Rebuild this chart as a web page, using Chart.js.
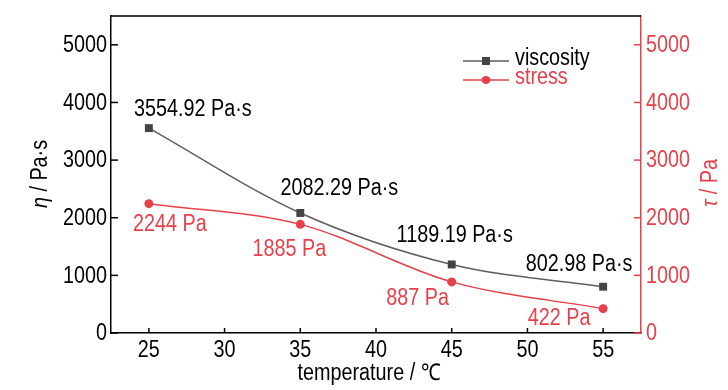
<!DOCTYPE html>
<html><head><meta charset="utf-8">
<script src="https://cdn.jsdelivr.net/npm/chart.js@4.4.0/dist/chart.umd.min.js"></script>
<style>html,body{margin:0;padding:0;background:#fff}#wrap{width:728px;height:390px;position:relative}</style>
</head><body><div id="wrap"><canvas id="c" width="728" height="390"></canvas></div>
<script>
// ---- data ----
const temperatures = [25, 35, 45, 55];
const viscosity = [3554.92, 2082.29, 1189.19, 802.98];
const stress = [2244, 1885, 887, 422];
const viscosityLabels = ['3554.92 Pa·s', '2082.29 Pa·s', '1189.19 Pa·s', '802.98 Pa·s'];
const stressLabels = ['2244 Pa', '1885 Pa', '887 Pa', '422 Pa'];
const xTicks = [25, 30, 35, 40, 45, 50, 55];
const yTicks = [0, 1000, 2000, 3000, 4000, 5000];
const seriesNames = ['viscosity', 'stress'];
const xTitle = 'temperature / ℃';
const yLeftSymbol = 'η', yLeftUnit = ' / Pa·s';
const yRightSymbol = 'τ', yRightUnit = ' / Pa';

// ---- styles / label offsets (pixels) ----
const vOff = [[44, -18], [39, -24], [3, -29], [-24, -22]];
const sOff = [[21, 21], [-11, 25], [-34, 17], [-44, 10]];
const FAM = '"Liberation Sans", Arial, sans-serif';
const RED = '#e8404a';
const GRAY = '#5e5e5e';
const DARK = '#444444';
const FS = 23;
const NARROW = 0.86;

const pts = (xs, ys) => xs.map((x, i) => ({x: x, y: ys[i]}));

// draw condensed text (horizontal squeeze)
function nText(ctx, txt, x, y, align, font, color, rot) {
  ctx.save();
  ctx.translate(x, y);
  if (rot) ctx.rotate(rot);
  ctx.scale(NARROW, 1);
  ctx.font = font; ctx.fillStyle = color; ctx.textAlign = align; ctx.textBaseline = 'middle';
  ctx.fillText(txt, 0, 0);
  ctx.restore();
}

const decor = {
  id: 'decor',
  afterDatasetsDraw(chart) {
    const ctx = chart.ctx, a = chart.chartArea;
    const sx = chart.scales.x, sy = chart.scales.y, sy1 = chart.scales.y1;
    const F = FS + 'px ' + FAM;
    ctx.save();
    // top frame line
    ctx.strokeStyle = '#000'; ctx.lineWidth = 1.5;
    ctx.beginPath(); ctx.moveTo(a.left, a.top); ctx.lineTo(a.right, a.top); ctx.stroke();
    // inward ticks + tick labels from the library's scale ticks
    sx.ticks.forEach(t => { const p = sx.getPixelForValue(t.value);
      ctx.beginPath(); ctx.moveTo(p, a.bottom); ctx.lineTo(p, a.bottom - 5); ctx.stroke();
      nText(ctx, String(t.value), p, a.bottom + 18, 'center', F, '#000'); });
    sy.ticks.forEach(t => { const p = sy.getPixelForValue(t.value);
      ctx.beginPath(); ctx.moveTo(a.left, p); ctx.lineTo(a.left + 7, p); ctx.stroke();
      nText(ctx, String(t.value), a.left - 4, p + 1, 'right', F, '#000'); });
    ctx.strokeStyle = RED;
    sy1.ticks.forEach(t => { const p = sy1.getPixelForValue(t.value);
      ctx.beginPath(); ctx.moveTo(a.right, p); ctx.lineTo(a.right - 7, p); ctx.stroke();
      nText(ctx, String(t.value), a.right + 5, p + 1, 'left', F, RED); });
    // data labels
    const m0 = chart.getDatasetMeta(0), m1 = chart.getDatasetMeta(1);
    m0.data.forEach((pt, i) => nText(ctx, viscosityLabels[i], pt.x + vOff[i][0], pt.y + vOff[i][1], 'center', F, '#000'));
    m1.data.forEach((pt, i) => nText(ctx, stressLabels[i], pt.x + sOff[i][0], pt.y + sOff[i][1], 'center', F, RED));
    // legend
    const lx = 463, lw = 46, tx = 515, ly = [61, 80];
    [[GRAY, DARK, 'rect'], [RED, RED, 'circle']].forEach((s, i) => {
      ctx.strokeStyle = s[0]; ctx.lineWidth = 1.5;
      ctx.beginPath(); ctx.moveTo(lx, ly[i]); ctx.lineTo(lx + lw, ly[i]); ctx.stroke();
      ctx.fillStyle = s[1];
      if (s[2] === 'rect') ctx.fillRect(lx + lw / 2 - 4, ly[i] - 4, 8, 8);
      else { ctx.beginPath(); ctx.ellipse(lx + lw / 2, ly[i], 4.5, 4, 0, 0, Math.PI * 2); ctx.fill(); }
      nText(ctx, seriesNames[i], tx, ly[i] - 2, 'left', F, i === 0 ? '#000' : RED);
    });
    // axis titles
    nText(ctx, xTitle, 369, 374, 'center', F, '#000');
    const rotTitle = (sym, unit, cx, cy, col) => {
      ctx.save(); ctx.translate(cx, cy); ctx.rotate(-Math.PI / 2); ctx.scale(NARROW, 1);
      ctx.fillStyle = col; ctx.textBaseline = 'middle';
      const FI = 'italic ' + FS + 'px ' + FAM;
      ctx.font = FI; const w1 = ctx.measureText(sym).width;
      ctx.font = F; const w2 = ctx.measureText(unit).width;
      const st = -(w1 + w2) / 2;
      ctx.textAlign = 'left';
      ctx.font = FI; ctx.fillText(sym, st, 0);
      ctx.font = F; ctx.fillText(unit, st + w1, 0);
      ctx.restore();
    };
    rotTitle(yLeftSymbol, yLeftUnit, 41, 174, '#000');
    rotTitle(yRightSymbol, yRightUnit, 711, 183, RED);
    ctx.restore();
  }
};

new Chart(document.getElementById('c'), {
  type: 'line',
  data: {
    datasets: [
      { label: seriesNames[0], data: pts(temperatures, viscosity), yAxisID: 'y',
        borderColor: GRAY, borderWidth: 1.5, pointStyle: 'rect', pointRadius: 5.6,
        pointBackgroundColor: DARK, pointBorderColor: DARK, pointBorderWidth: 0,
        cubicInterpolationMode: 'monotone' },
      { label: seriesNames[1], data: pts(temperatures, stress), yAxisID: 'y1',
        borderColor: RED, borderWidth: 1.5, pointStyle: 'circle', pointRadius: 4.5,
        pointBackgroundColor: RED, pointBorderColor: RED, pointBorderWidth: 0,
        cubicInterpolationMode: 'monotone' }
    ]
  },
  options: {
    responsive: false, animation: false, devicePixelRatio: 1,
    layout: { padding: { top: 16, left: 0, right: 0, bottom: 0 } },
    plugins: { legend: { display: false }, tooltip: { enabled: false } },
    scales: {
      x: { type: 'linear', min: 22.5, max: 57.5,
        afterBuildTicks: s => { s.ticks = xTicks.map(v => ({ value: v })); },
        afterFit: s => { s.height = 57; },
        grid: { display: false, drawTicks: false },
        border: { display: true, color: '#000', width: 1.5 },
        ticks: { display: false } },
      y: { type: 'linear', position: 'left', min: 0, max: 5500,
        afterBuildTicks: s => { s.ticks = yTicks.map(v => ({ value: v })); },
        afterFit: s => { s.width = 111; },
        grid: { display: false, drawTicks: false },
        border: { display: true, color: '#000', width: 1.5 },
        ticks: { display: false } },
      y1: { type: 'linear', position: 'right', min: 0, max: 5500,
        afterBuildTicks: s => { s.ticks = yTicks.map(v => ({ value: v })); },
        afterFit: s => { s.width = 87; },
        grid: { display: false, drawTicks: false },
        border: { display: true, color: RED, width: 1.5 },
        ticks: { display: false } }
    }
  },
  plugins: [decor]
});
</script></body></html>
